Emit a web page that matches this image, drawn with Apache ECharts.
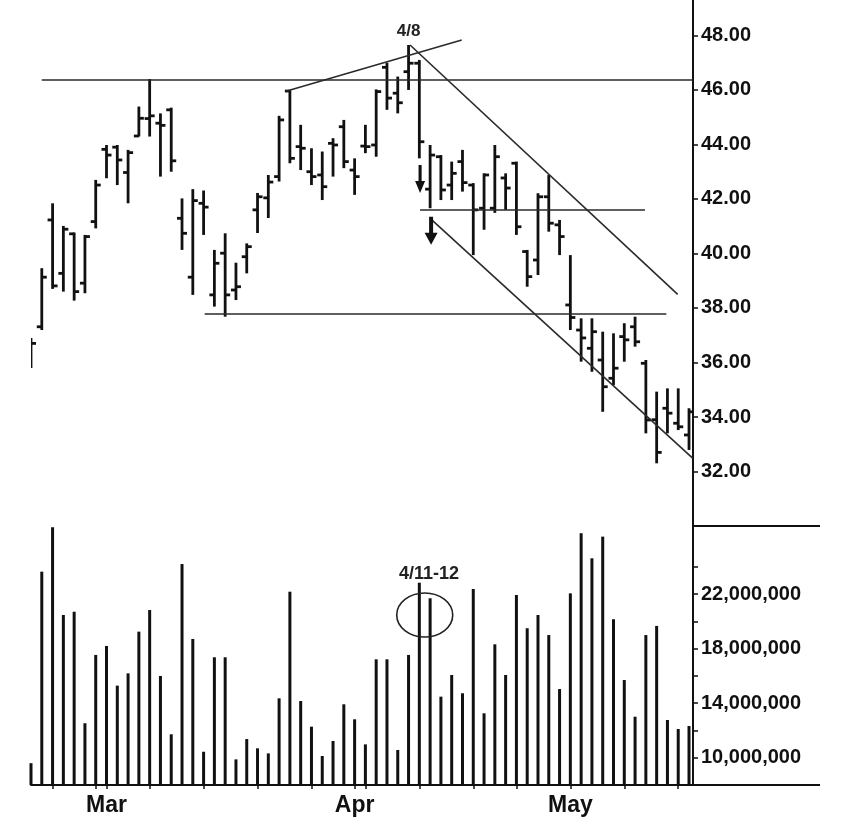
<!DOCTYPE html>
<html><head><meta charset="utf-8">
<script src="https://cdn.jsdelivr.net/npm/echarts@6/dist/echarts.min.js"></script>
<style>html,body{margin:0;padding:0;background:#fff}#c{width:850px;height:836px}</style>
</head><body><div id="c"></div>
<script>
// Trading days (2011)
const dates = ['2011-02-17','2011-02-18','2011-02-22','2011-02-23','2011-02-24','2011-02-25','2011-02-28',
'2011-03-01','2011-03-02','2011-03-03','2011-03-04','2011-03-07','2011-03-08','2011-03-09','2011-03-10','2011-03-11',
'2011-03-14','2011-03-15','2011-03-16','2011-03-17','2011-03-18','2011-03-21','2011-03-22','2011-03-23','2011-03-24','2011-03-25',
'2011-03-28','2011-03-29','2011-03-30','2011-03-31','2011-04-01','2011-04-04','2011-04-05','2011-04-06','2011-04-07','2011-04-08',
'2011-04-11','2011-04-12','2011-04-13','2011-04-14','2011-04-15','2011-04-18','2011-04-19','2011-04-20','2011-04-21',
'2011-04-25','2011-04-26','2011-04-27','2011-04-28','2011-04-29','2011-05-02','2011-05-03','2011-05-04','2011-05-05','2011-05-06',
'2011-05-09','2011-05-10','2011-05-11','2011-05-12','2011-05-13','2011-05-16','2011-05-17'];
const opens  = [36.0,37.31,41.23,39.27,40.72,38.91,41.17,43.82,43.90,42.97,44.31,44.95,44.78,45.27,41.29,39.13,41.84,38.48,40.01,38.66,39.88,41.60,42.04,42.82,45.96,43.92,43.00,42.88,44.04,44.65,43.06,43.94,43.98,46.83,45.88,46.67,46.98,42.36,43.55,42.51,43.37,42.51,41.66,41.66,42.77,43.31,40.07,39.76,42.08,41.05,38.11,37.19,36.52,36.09,35.42,36.95,37.31,35.97,33.90,34.32,33.77,33.34];
const highs  = [36.9,39.46,41.84,41.01,40.77,40.68,42.70,43.98,43.98,43.80,45.39,46.40,45.14,45.35,42.02,42.36,42.31,40.13,40.74,39.66,40.37,42.22,42.88,45.05,46.00,44.72,43.86,43.74,44.23,44.90,43.49,44.72,46.02,47.00,46.49,47.65,47.10,43.98,43.61,43.37,43.80,42.58,42.94,43.98,42.94,43.37,40.13,42.21,42.88,41.23,39.94,37.62,37.62,37.13,37.07,37.44,37.68,36.09,34.93,35.05,35.05,34.32];
const lows   = [35.8,37.19,38.70,38.60,38.27,38.54,40.92,42.76,42.51,41.84,44.29,44.29,42.82,43.00,40.13,38.48,40.68,38.05,37.68,38.29,39.27,40.75,41.30,42.64,43.31,43.06,42.51,41.96,42.82,43.13,42.15,43.68,43.55,45.27,45.14,46.00,43.49,41.66,41.96,41.96,42.27,39.94,40.87,41.49,41.60,40.68,38.78,39.21,40.80,39.94,37.19,36.03,35.66,34.19,35.17,36.03,36.58,33.40,32.30,33.40,33.52,32.79];
const closes = [36.7,39.13,38.81,40.89,38.60,40.62,42.51,43.61,43.43,43.70,44.96,45.05,44.70,43.40,40.74,41.94,41.70,39.64,38.48,38.78,40.25,42.08,42.62,44.90,43.49,43.86,42.82,42.45,43.98,43.37,42.82,43.92,45.94,45.70,45.53,46.98,44.10,43.61,42.33,42.94,42.60,41.60,42.88,43.55,42.40,40.98,39.15,42.08,41.11,40.62,37.65,36.90,37.13,35.11,35.79,36.83,36.76,33.89,32.70,34.14,33.64,34.19];
const volumes = [9.6e6,23.65e6,26.9e6,20.47e6,20.71e6,12.53e6,17.54e6,18.2e6,15.29e6,16.19e6,19.25e6,20.84e6,16.0e6,11.72e6,24.21e6,18.71e6,10.44e6,17.37e6,17.37e6,9.88e6,11.37e6,10.69e6,10.32e6,14.36e6,22.18e6,14.16e6,12.28e6,10.13e6,11.23e6,13.92e6,12.82e6,10.98e6,17.22e6,17.22e6,10.57e6,17.54e6,22.84e6,21.7e6,14.48e6,16.07e6,14.73e6,22.38e6,13.26e6,18.32e6,16.07e6,21.94e6,19.5e6,20.47e6,19.0e6,15.04e6,22.06e6,26.47e6,24.63e6,26.22e6,20.16e6,15.7e6,13.01e6,19.0e6,19.67e6,12.77e6,12.11e6,12.33e6];

const priceTicks = [32,34,36,38,40,42,44,46,48];
const volumeTicks = [10e6,12e6,14e6,16e6,18e6,20e6,22e6,24e6];
const volumeTickLabels = [10e6,14e6,18e6,22e6];
const monthNames = ['Jan','Feb','Mar','Apr','May','Jun','Jul','Aug','Sep','Oct','Nov','Dec'];

// Annotations in data space: [dayIndex1, price1, dayIndex2, price2]
const trendLines = [
  [1.0, 46.38, 61.36, 46.38],
  [16.1, 37.78, 58.9, 37.78],
  [36.07, 41.62, 56.92, 41.62],
  [23.71, 45.96, 39.93, 47.83],
  [35.14, 47.65, 59.95, 38.50],
  [37.0, 41.29, 61.36, 32.48]
];
const arrowPoints = [[36.07, 42.73], [37.09, 40.83]];
const peakNote = ['4/8', 35, 47.65];
const volumeNote = ['4/11-12', 36.9, 23.5e6];
const volumeCircle = [36.5, 20.47e6];

// week / month starts from dates
const tickIdx = [], monthIdx = [];
for (let i = 1; i < dates.length; i++) {
  const d = new Date(dates[i] + 'T00:00:00Z'), p = new Date(dates[i-1] + 'T00:00:00Z');
  if (d.getUTCMonth() !== p.getUTCMonth()) { monthIdx.push(i); tickIdx.push(i); }
  else if (d.getUTCDay() < p.getUTCDay()) tickIdx.push(i);
  else if ((d - p) > 3 * 86400000) tickIdx.push(i);
}

const ohlc = dates.map((d, i) => [i, opens[i], highs[i], lows[i], closes[i]]);
const vol = dates.map((d, i) => [i, volumes[i]]);

const ink = '#111';
const arrowPath = 'path://M4.5,0L8.5,0L8.5,16L13,16L6.5,28L0,16L4.5,16Z';
const fontFam = '"Liberation Sans", Arial, sans-serif';

const chart = echarts.init(document.getElementById('c'), null, {renderer: 'canvas'});
const X_MIN = 0, X_MAX = 61.37;
chart.setOption({
  animation: false,
  backgroundColor: '#fff',
  grid: [
    {left: 31, right: 157, top: 0, height: 526},
    {left: 31, right: 157, top: 526, height: 259}
  ],
  xAxis: [
    {type: 'value', gridIndex: 0, min: X_MIN, max: X_MAX, show: false},
    {type: 'value', gridIndex: 1, min: X_MIN, max: X_MAX,
     axisLine: {show: true, onZero: false, lineStyle: {color: ink, width: 2}},
     axisTick: {show: true, customValues: tickIdx, length: 4, lineStyle: {color: ink, width: 1.5}},
     axisLabel: {show: true, customValues: monthIdx, margin: 9,
       formatter: v => monthNames[new Date(dates[Math.round(v)] + 'T00:00:00Z').getUTCMonth()],
       fontFamily: fontFam, fontWeight: 'bold', fontSize: 23, color: ink},
     splitLine: {show: false}}
  ],
  yAxis: [
    {type: 'value', gridIndex: 0, position: 'right', min: 30, max: 49.3,
     axisLine: {show: true, onZero: false, lineStyle: {color: ink, width: 2}},
     axisTick: {show: true, customValues: priceTicks, length: 5, lineStyle: {color: ink, width: 1.5}},
     axisLabel: {customValues: priceTicks, formatter: v => v.toFixed(2), margin: 8,
       fontFamily: fontFam, fontWeight: 'bold', fontSize: 20, color: ink},
     splitLine: {show: false}},
    {type: 'value', gridIndex: 1, position: 'right', min: 8e6, max: 27e6,
     axisLine: {show: true, onZero: false, lineStyle: {color: ink, width: 2}},
     axisTick: {show: true, customValues: volumeTicks, length: 5, lineStyle: {color: ink, width: 1.5}},
     axisLabel: {customValues: volumeTickLabels, formatter: v => v.toLocaleString('en-US'), margin: 8,
       fontFamily: fontFam, fontWeight: 'bold', fontSize: 20, color: ink},
     splitLine: {show: false}}
  ],
  graphic: [
    {type: 'line', shape: {x1: 693, y1: 526, x2: 820, y2: 526}, style: {stroke: ink, lineWidth: 2}},
    {type: 'line', shape: {x1: 693, y1: 785, x2: 820, y2: 785}, style: {stroke: ink, lineWidth: 2}}
  ],
  series: [
    {
      type: 'custom', name: 'price', xAxisIndex: 0, yAxisIndex: 0, clip: true,
      data: ohlc, encode: {x: 0, y: [1, 2, 3, 4]},
      renderItem: function (params, api) {
        const x = api.value(0);
        const o = api.coord([x, api.value(1)]);
        const h = api.coord([x, api.value(2)]);
        const l = api.coord([x, api.value(3)]);
        const c = api.coord([x, api.value(4)]);
        const st = {stroke: ink, lineWidth: 2.8};
        return {type: 'group', children: [
          {type: 'line', shape: {x1: h[0], y1: h[1], x2: l[0], y2: l[1]}, style: st},
          {type: 'line', shape: {x1: o[0] - 5, y1: o[1], x2: o[0], y2: o[1]}, style: st},
          {type: 'line', shape: {x1: c[0], y1: c[1], x2: c[0] + 5, y2: c[1]}, style: st}
        ]};
      },
      markLine: {
        silent: true, symbol: ['none', 'none'], label: {show: false},
        lineStyle: {color: '#2a2a2a', width: 1.6, type: 'solid'},
        data: trendLines.map(t => [{coord: [t[0], t[1]]}, {coord: [t[2], t[3]]}])
      },
      markPoint: {
        silent: true,
        data: arrowPoints.map((a, k) => ({coord: a, symbol: arrowPath, symbolSize: k === 0 ? [10, 28] : [13, 28],
          itemStyle: {color: ink}, label: {show: false}})).concat([
          {coord: [peakNote[1], peakNote[2]], symbol: 'circle', symbolSize: 1,
           itemStyle: {color: 'rgba(0,0,0,0)'},
           label: {show: true, position: 'inside', offset: [0, -14], formatter: peakNote[0],
             fontFamily: fontFam, fontWeight: 'bold', fontSize: 17, color: '#222'}}
        ])
      }
    },
    {
      type: 'bar', name: 'volume', xAxisIndex: 1, yAxisIndex: 1, data: vol, barWidth: 3,
      itemStyle: {color: ink}, clip: true,
      markPoint: {
        silent: true,
        data: [{coord: [volumeNote[1], volumeNote[2]], symbol: 'circle', symbolSize: 1,
          itemStyle: {color: 'rgba(0,0,0,0)'},
          label: {show: true, position: 'inside', formatter: volumeNote[0],
            fontFamily: fontFam, fontWeight: 'bold', fontSize: 18, color: '#222'}}]
      }
    },
    {
      type: 'custom', name: 'circle', xAxisIndex: 1, yAxisIndex: 1, silent: true, z: 5,
      data: [volumeCircle],
      renderItem: function (params, api) {
        const c = api.coord([api.value(0), api.value(1)]);
        return {type: 'ellipse', shape: {cx: c[0], cy: c[1], rx: 28, ry: 22},
          style: {fill: null, stroke: '#222', lineWidth: 1.6}};
      }
    }
  ]
});
</script></body></html>
